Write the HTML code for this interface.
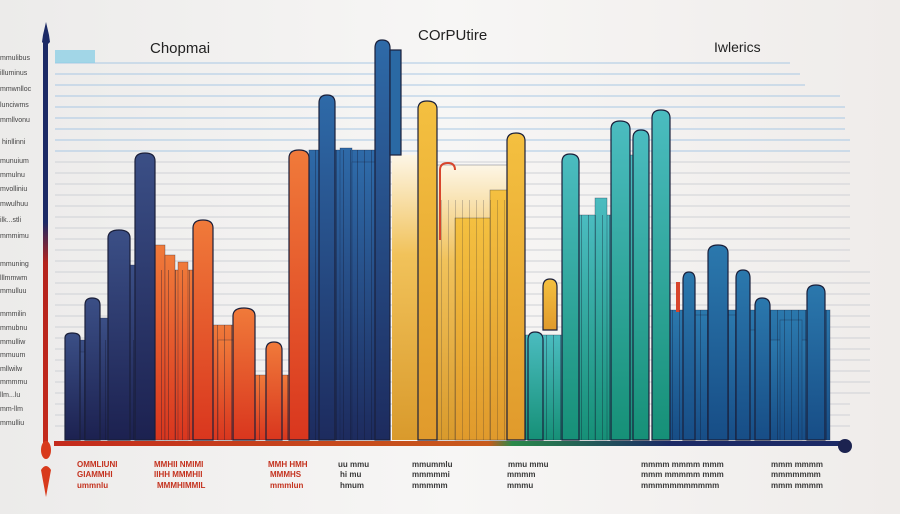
<!DOCTYPE html>
<html><head><meta charset="utf-8"><style>
html,body{margin:0;padding:0;background:#f3f1ef;}
svg{display:block;font-family:"Liberation Sans",sans-serif;}
</style></head><body>
<svg width="900" height="514" viewBox="0 0 900 514" xmlns="http://www.w3.org/2000/svg">
<defs>
<linearGradient id="bg" x1="0" y1="0" x2="1" y2="0"><stop offset="0" stop-color="#ecebea"/><stop offset="0.5" stop-color="#f7f6f5"/><stop offset="1" stop-color="#efecea"/></linearGradient>
<linearGradient id="nv" x1="0" y1="0" x2="0" y2="1"><stop offset="0" stop-color="#3b4f86"/><stop offset="1" stop-color="#1c2150"/></linearGradient>
<linearGradient id="or" x1="0" y1="0" x2="0" y2="1"><stop offset="0" stop-color="#f07a3a"/><stop offset="1" stop-color="#d9361e"/></linearGradient>
<linearGradient id="bl" x1="0" y1="0" x2="0" y2="1"><stop offset="0" stop-color="#2e6aa8"/><stop offset="1" stop-color="#1d2b5e"/></linearGradient>
<linearGradient id="ye" x1="0" y1="0" x2="0" y2="1"><stop offset="0" stop-color="#fdf6e6"/><stop offset="0.35" stop-color="#f1c25a"/><stop offset="1" stop-color="#d99a2c"/></linearGradient>
<linearGradient id="ye2" x1="0" y1="0" x2="0" y2="1"><stop offset="0" stop-color="#f4c040"/><stop offset="1" stop-color="#e09a2c"/></linearGradient>
<linearGradient id="te" x1="0" y1="0" x2="0" y2="1"><stop offset="0" stop-color="#4bbcc0"/><stop offset="1" stop-color="#169077"/></linearGradient>
<linearGradient id="b2" x1="0" y1="0" x2="0" y2="1"><stop offset="0" stop-color="#2b78ad"/><stop offset="1" stop-color="#174d86"/></linearGradient>
<linearGradient id="ax" x1="0" y1="0" x2="0" y2="1"><stop offset="0" stop-color="#1c2a66"/><stop offset="0.45" stop-color="#1c2a66"/><stop offset="0.55" stop-color="#b5231c"/><stop offset="1" stop-color="#c42a1c"/></linearGradient>
<linearGradient id="xa" x1="0" y1="0" x2="1" y2="0"><stop offset="0" stop-color="#c42a1c"/><stop offset="0.55" stop-color="#c85a1c"/><stop offset="0.58" stop-color="#2a8a4a"/><stop offset="0.78" stop-color="#1c2a66"/><stop offset="1" stop-color="#1c2a66"/></linearGradient>
<pattern id="st" width="7" height="10" patternUnits="userSpaceOnUse"><rect x="0" y="0" width="1" height="10" fill="#10142a" opacity="0.35"/></pattern>
</defs>
<rect width="900" height="514" fill="url(#bg)"/>
<g stroke-width="1">
<g stroke="#a9c8e4"><line x1="55" y1="63" x2="790" y2="63"/><line x1="55" y1="74" x2="800" y2="74"/><line x1="55" y1="85" x2="805" y2="85"/><line x1="55" y1="96" x2="840" y2="96"/><line x1="55" y1="107" x2="845" y2="107"/><line x1="55" y1="118" x2="845" y2="118"/><line x1="55" y1="129" x2="845" y2="129"/><line x1="55" y1="140" x2="850" y2="140"/><line x1="55" y1="151" x2="850" y2="151"/></g>
<g stroke="#cfd1d6"><line x1="55" y1="162" x2="850" y2="162"/><line x1="55" y1="173" x2="850" y2="173"/><line x1="55" y1="184" x2="850" y2="184"/><line x1="55" y1="195" x2="850" y2="195"/><line x1="55" y1="206" x2="850" y2="206"/><line x1="55" y1="217" x2="850" y2="217"/><line x1="55" y1="228" x2="850" y2="228"/><line x1="55" y1="239" x2="850" y2="239"/><line x1="55" y1="250" x2="850" y2="250"/><line x1="55" y1="261" x2="850" y2="261"/><line x1="55" y1="272" x2="870" y2="272"/><line x1="55" y1="283" x2="870" y2="283"/><line x1="55" y1="294" x2="870" y2="294"/><line x1="55" y1="305" x2="870" y2="305"/><line x1="55" y1="316" x2="870" y2="316"/><line x1="55" y1="327" x2="870" y2="327"/><line x1="55" y1="338" x2="870" y2="338"/><line x1="55" y1="349" x2="870" y2="349"/><line x1="55" y1="360" x2="870" y2="360"/><line x1="55" y1="371" x2="870" y2="371"/><line x1="55" y1="382" x2="870" y2="382"/><line x1="55" y1="393" x2="870" y2="393"/><line x1="55" y1="404" x2="850" y2="404"/><line x1="55" y1="415" x2="850" y2="415"/><line x1="55" y1="426" x2="850" y2="426"/></g>
</g>
<rect x="55" y="50" width="40" height="13" fill="#8fd0e6" opacity="0.8"/>
<!-- filler bars -->
<g stroke="#1a1f3a" stroke-width="0.6" stroke-opacity="0.5">
<rect x="65" y="340" width="72" height="100" fill="url(#nv)"/>
<rect x="80" y="352" width="6" height="88" fill="url(#nv)"/>
<rect x="100" y="318" width="8" height="122" fill="url(#nv)"/>
<rect x="130" y="265" width="8" height="175" fill="url(#nv)"/>
<rect x="137" y="270" width="56" height="170" fill="url(#or)"/>
<rect x="155" y="245" width="10" height="195" fill="url(#or)"/>
<rect x="165" y="255" width="10" height="185" fill="url(#or)"/>
<rect x="178" y="262" width="10" height="178" fill="url(#or)"/>
<rect x="213" y="325" width="20" height="115" fill="url(#or)"/>
<rect x="218" y="340" width="15" height="100" fill="url(#or)"/>
<rect x="255" y="375" width="35" height="65" fill="url(#or)"/>
<rect x="309" y="150" width="66" height="290" fill="url(#bl)"/>
<rect x="340" y="148" width="12" height="292" fill="url(#bl)"/>
<rect x="352" y="162" width="23" height="278" fill="url(#bl)"/>
<rect x="392" y="155" width="26" height="285" fill="url(#ye)" stroke="none"/>
<rect x="437" y="165" width="70" height="275" fill="url(#ye)"/>
<rect x="455" y="218" width="52" height="222" fill="url(#ye2)"/>
<rect x="490" y="190" width="17" height="250" fill="url(#ye2)"/>
<rect x="525" y="335" width="37" height="105" fill="url(#te)"/>
<rect x="579" y="215" width="32" height="225" fill="url(#te)"/>
<rect x="595" y="198" width="12" height="242" fill="url(#te)"/>
<rect x="630" y="155" width="3" height="285" fill="url(#te)"/>
<rect x="670" y="310" width="160" height="130" fill="url(#b2)"/>
<rect x="695" y="315" width="13" height="125" fill="url(#b2)"/>
<rect x="728" y="315" width="8" height="125" fill="url(#b2)"/>
<rect x="750" y="330" width="5" height="110" fill="url(#b2)"/>
<rect x="770" y="340" width="37" height="100" fill="url(#b2)"/>
<rect x="780" y="320" width="22" height="120" fill="url(#b2)"/>
<rect x="676" y="282" width="4" height="30" fill="#d8452c" stroke="none"/>
</g>
<!-- stripe texture -->
<g fill="url(#st)">
<rect x="65" y="340" width="72" height="100"/>
<rect x="137" y="270" width="56" height="170"/>
<rect x="213" y="325" width="20" height="115"/>
<rect x="255" y="375" width="35" height="65"/>
<rect x="309" y="150" width="66" height="290"/>
<rect x="437" y="200" width="70" height="240" opacity="0.6"/>
<rect x="525" y="335" width="37" height="105"/>
<rect x="579" y="215" width="32" height="225"/>
<rect x="670" y="310" width="160" height="130"/>
</g>
<!-- main rounded bars -->
<g stroke="#1a1f3a" stroke-width="1.2">
<path d="M65 440V338q0-5 7-5q8 0 8 5V440Z" fill="url(#nv)"/>
<path d="M85 440V305q0-7 7-7q8 0 8 7V440Z" fill="url(#nv)"/>
<path d="M108 440V238q0-8 11-8q11 0 11 8V440Z" fill="url(#nv)"/>
<path d="M135 440V161q0-8 10-8q10 0 10 8V440Z" fill="url(#nv)"/>
<path d="M193 440V228q0-8 10-8q10 0 10 8V440Z" fill="url(#or)"/>
<path d="M233 440V316q0-8 11-8q11 0 11 8V440Z" fill="url(#or)"/>
<path d="M266 440V350q0-8 8-8q8 0 8 8V440Z" fill="url(#or)"/>
<path d="M289 440V158q0-8 10-8q10 0 10 8V440Z" fill="url(#or)"/>
<path d="M319 440V103q0-8 8-8q8 0 8 8V440Z" fill="url(#bl)"/>
<path d="M375 440V48q0-8 7-8q8 0 8 8V440Z" fill="url(#bl)"/>
<rect x="390" y="50" width="11" height="105" fill="#2a69a4"/>
<path d="M418 440V109q0-8 9-8q10 0 10 8V440Z" fill="url(#ye2)"/>
<path d="M440 240V170q0-7 8-7q7 0 7 7" fill="none" stroke="#d8452c" stroke-width="2"/>
<path d="M507 440V141q0-8 9-8q9 0 9 8V440Z" fill="url(#ye2)"/>
<path d="M543 330V287q0-8 7-8q7 0 7 8V330Z" fill="url(#ye2)"/>
<path d="M528 440V340q0-8 7-8q8 0 8 8V440Z" fill="url(#te)"/>
<path d="M562 440V162q0-8 8-8q9 0 9 8V440Z" fill="url(#te)"/>
<path d="M611 440V129q0-8 9-8q10 0 10 8V440Z" fill="url(#te)"/>
<path d="M633 440V138q0-8 8-8q8 0 8 8V440Z" fill="url(#te)"/>
<path d="M652 440V118q0-8 9-8q9 0 9 8V440Z" fill="url(#te)"/>
<path d="M683 440V280q0-8 6-8q6 0 6 8V440Z" fill="url(#b2)"/>
<path d="M708 440V253q0-8 10-8q10 0 10 8V440Z" fill="url(#b2)"/>
<path d="M736 440V278q0-8 7-8q7 0 7 8V440Z" fill="url(#b2)"/>
<path d="M755 440V306q0-8 7-8q8 0 8 8V440Z" fill="url(#b2)"/>
<path d="M807 440V293q0-8 9-8q9 0 9 8V440Z" fill="url(#b2)"/>
</g>
<!-- axes -->
<rect x="43" y="40" width="5" height="405" fill="url(#ax)"/>
<path d="M46 22L49 35L50 42L46 46L42 42L43 35Z" fill="#1c2a66"/>
<ellipse cx="46" cy="450" rx="5" ry="9" fill="#d83a1c"/>
<path d="M41 470Q46 462 51 470L46 497Z" fill="#d83a1c"/>
<rect x="54" y="441" width="790" height="5" fill="url(#xa)"/>
<circle cx="845" cy="446" r="7" fill="#1c2350"/>
<!-- titles -->
<text x="150" y="53" font-size="15" fill="#222">Chopmai</text>
<text x="418" y="40" font-size="15" fill="#222">COrPUtire</text>
<text x="714" y="52" font-size="14" fill="#222">Iwlerics</text>
<!-- y labels -->
<g font-size="7" fill="#444">
<text x="0" y="60">mmulibus</text><text x="0" y="75">illuminus</text><text x="0" y="91">mmwnlloc</text><text x="0" y="107">lunciwms</text><text x="0" y="122">mmllvonu</text><text x="2" y="144">hinllinni</text><text x="0" y="163">munuium</text><text x="0" y="177">mmulnu</text><text x="0" y="191">mvolliniu</text><text x="0" y="206">mwulhuu</text><text x="0" y="222">ilk...stli</text><text x="0" y="238">mmmimu</text><text x="0" y="266">mmuning</text><text x="0" y="280">lllmmwm</text><text x="0" y="293">mmulluu</text><text x="0" y="316">mmmilin</text><text x="0" y="330">mmubnu</text><text x="0" y="344">mmulliw</text><text x="0" y="357">mmuum</text><text x="0" y="371">mllwilw</text><text x="0" y="384">mmmmu</text><text x="0" y="397">llm...lu</text><text x="0" y="411">mm-llm</text><text x="0" y="425">mmulliu</text>
</g>
<!-- x labels -->
<g font-size="8" fill="#c4321e" font-weight="bold">
<text x="77" y="467">OMMLIUNI</text><text x="77" y="477">GIAMMHI</text><text x="77" y="488">ummnlu</text>
<text x="154" y="467">MMHII NMIMI</text><text x="154" y="477">IIHH MMMHII</text><text x="157" y="488">MMMHIMMIL</text>
<text x="268" y="467">MMH HMH</text><text x="270" y="477">MMMHS</text><text x="270" y="488">mmmlun</text>
</g>
<g font-size="8" fill="#3a3a3a" font-weight="bold">
<text x="338" y="467">uu mmu</text><text x="340" y="477">hi mu</text><text x="340" y="488">hmum</text>
<text x="412" y="467">mmummlu</text><text x="412" y="477">mmmmmi</text><text x="412" y="488">mmmmm</text>
<text x="508" y="467">mmu mmu</text><text x="507" y="477">mmmm</text><text x="507" y="488">mmmu</text>
<text x="641" y="467">mmmm mmmm mmm</text><text x="641" y="477">mmm mmmmm mmm</text><text x="641" y="488">mmmmmmmmmmm</text>
<text x="771" y="467">mmm mmmm</text><text x="771" y="477">mmmmmmm</text><text x="771" y="488">mmm mmmm</text>
</g>
</svg>
</body></html>
